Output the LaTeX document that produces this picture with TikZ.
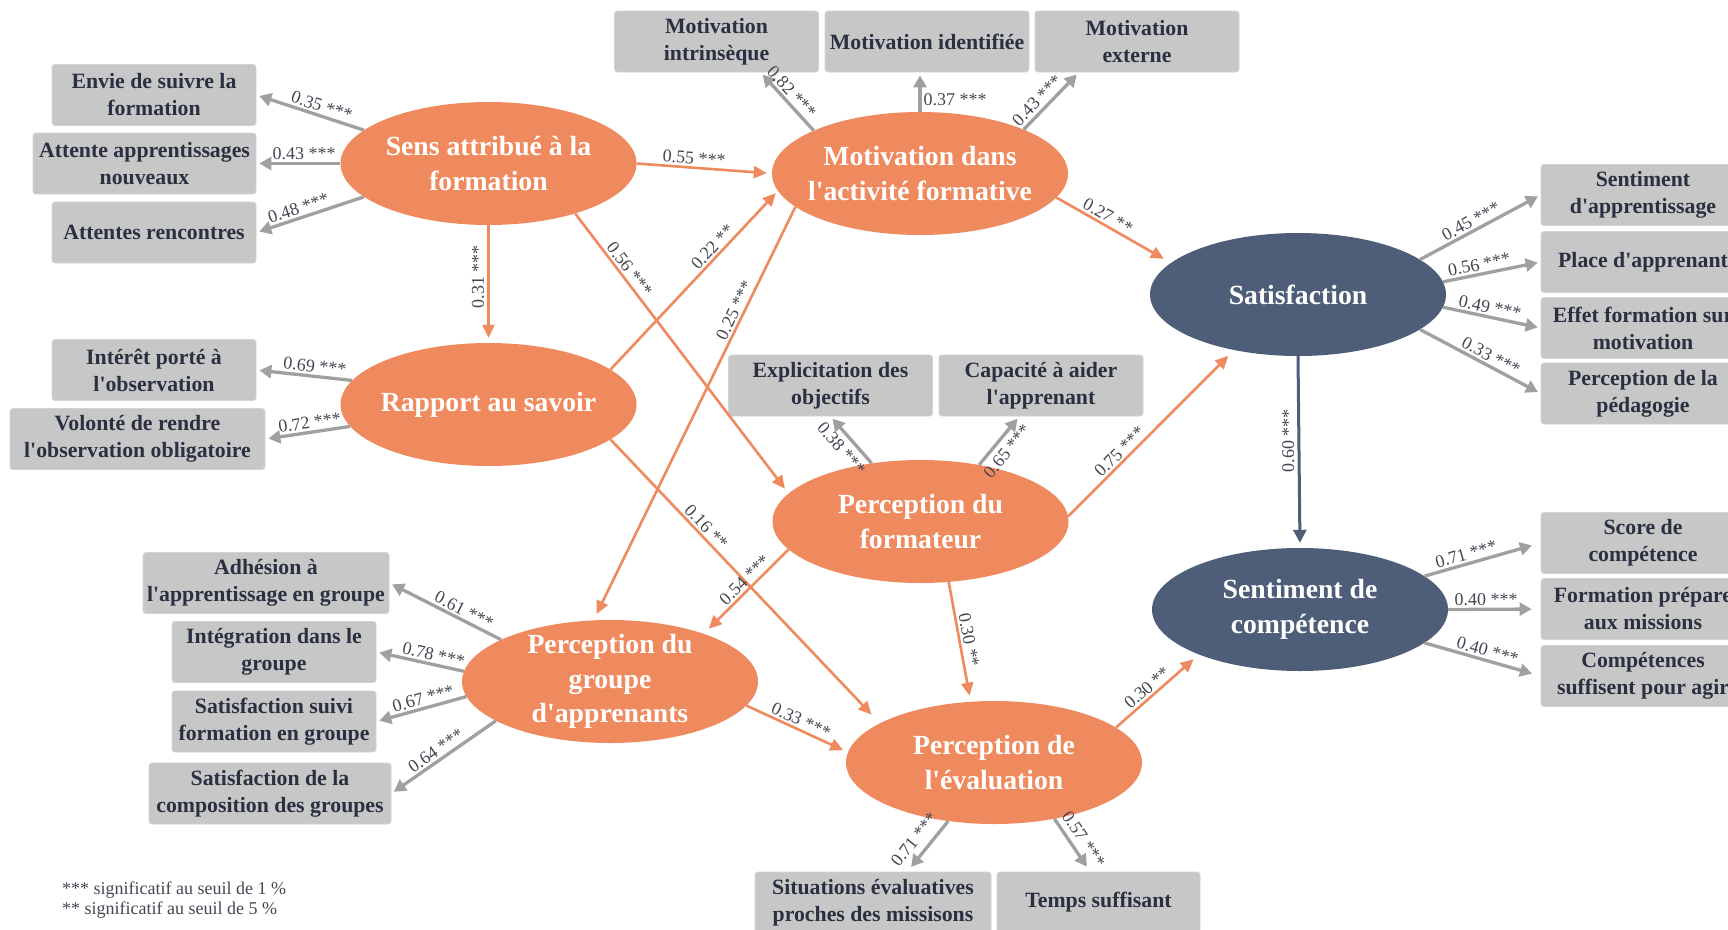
\documentclass[tikz,border=0pt]{standalone}
\usepackage{fontspec}
\setmainfont{Liberation Serif}[Ligatures=TeXOff]
\usetikzlibrary{arrows.meta,shapes.geometric,calc}
\definecolor{orng}{RGB}{239,138,94}
\definecolor{navy}{RGB}{78,93,120}
\definecolor{boxgray}{RGB}{198,199,199}
\definecolor{boxedge}{RGB}{210,211,211}
\definecolor{boxtext}{RGB}{45,47,64}
\definecolor{arrgray}{RGB}{160,160,160}
\definecolor{lbl}{RGB}{70,70,82}
\tikzset{
 lat/.style={ellipse, minimum width=296pt, minimum height=123pt, inner sep=0pt},
 olat/.style={lat, fill=orng},
 nlat/.style={lat, fill=navy},
 etxt/.style={text=white, font=\bfseries\fontsize{27.7}{34.5}\selectfont, align=center},
 bx/.style={rectangle, rounded corners=3pt, fill=boxgray, draw=boxedge, line width=0.8pt, minimum width=204pt, minimum height=61pt, inner sep=2pt, align=center, text=boxtext, font=\bfseries\fontsize{21.8}{27}\selectfont},
 lb/.style={font=\fontsize{18}{20}\selectfont, text=lbl, sloped, inner sep=2pt},
 lbn/.style={font=\fontsize{18}{20}\selectfont, text=lbl, inner sep=2pt},
 lbv/.style={font=\fontsize{18}{20}\selectfont, text=lbl, rotate=90, anchor=south, inner sep=3pt},
 garr/.style={draw=arrgray, line width=3.3pt, -{Triangle[length=12pt,width=13pt]}, shorten >=3pt},
 oarr/.style={draw=orng, line width=2.6pt, -{Triangle[length=13pt,width=12pt]}, shorten >=6pt},
 narr/.style={draw=navy, line width=3pt, -{Triangle[length=13pt,width=13pt]}, shorten >=5pt},
 lgd/.style={anchor=west, font=\fontsize{18}{20}\selectfont, text=lbl, inner sep=0pt}
}
\begin{document}
\begin{tikzpicture}[x=1pt,y=-1pt]
\useasboundingbox (0,0) rectangle (1728,929);
\clip (0,0) rectangle (1728,929);
\fill[white] (0,0) rectangle (1728,929);

% latent variables
\node[olat,label={[etxt]center:{Sens attribué à la\\formation}}] (sens) at (488.5,163.5) {};
\node[olat,label={[etxt]center:{Rapport au savoir}}] (rapport) at (488.5,404.5) {};
\node[olat,label={[etxt]center:{Motivation dans\\l'activité formative}}] (motiv) at (920,173.5) {};
\node[olat,label={[etxt]center:{Perception du\\formateur}}] (form) at (920.5,521.5) {};
\node[olat,label={[etxt]center:{Perception du\\groupe\\d'apprenants}}] (grp) at (610,681.5) {};
\node[olat,label={[etxt]center:{Perception de\\l'évaluation}}] (eval) at (994,762.5) {};
\node[nlat,label={[etxt]center:{Satisfaction}}] (sat) at (1298,294.5) {};
\node[nlat,label={[etxt]center:{Sentiment de\\compétence}}] (sent) at (1300,609.5) {};

% indicators
\node[bx] (envie) at (154,95) {Envie de suivre la\\formation};
\node[bx, minimum width=223pt] (attente) at (144.5,163.5) {Attente apprentissages\\nouveaux};
\node[bx] (rencontres) at (154,232.5) {Attentes rencontres};
\node[bx] (interet) at (154,370) {Intérêt porté à\\l'observation};
\node[bx, minimum width=255pt] (volonte) at (137.5,439) {Volonté de rendre\\l'observation obligatoire};
\node[bx] (intr) at (716.5,41.5) {Motivation\\intrinsèque};
\node[bx] (ident) at (927,41.5) {Motivation identifiée};
\node[bx] (ext) at (1137,41.5) {Motivation\\externe};
\node[bx] (explic) at (830.5,385.5) {Explicitation des\\objectifs};
\node[bx] (capac) at (1041,385.5) {Capacité à aider\\l'apprenant};
\node[bx] (sentapp) at (1643,195) {Sentiment\\d'apprentissage};
\node[bx] (place) at (1643,262) {Place d'apprenant};
\node[bx] (effet) at (1643,328) {Effet formation sur\\motivation};
\node[bx] (pedag) at (1643,393.5) {Perception de la\\pédagogie};
\node[bx] (score) at (1643,543) {Score de\\compétence};
\node[bx] (prepare) at (1643,609) {Formation prépare\\aux missions};
\node[bx] (suffisent) at (1643,676) {Compétences\\suffisent pour agir};
\node[bx, minimum width=246pt] (adhesion) at (266,583) {Adhésion à\\l'apprentissage en groupe};
\node[bx] (integration) at (274,652) {Intégration dans le\\groupe};
\node[bx] (suivi) at (274,721.5) {Satisfaction suivi\\formation en groupe};
\node[bx, minimum width=242pt] (compo) at (270,793.5) {Satisfaction de la\\composition des groupes};
\node[bx, minimum width=236pt] (situations) at (873,902.5) {Situations évaluatives\\proches des missisons};
\node[bx, minimum width=203pt] (temps) at (1098.5,902.5) {Temps suffisant};

% measurement arrows
\draw[garr] (sens.165) -- (envie.east) node[lb,pos=0.42,above]{0.35 ***};
\draw[garr] (sens.180) -- (attente.east) node[lb,pos=0.43,above]{0.43 ***};
\draw[garr] (sens.195) -- (rencontres.east) node[lb,pos=0.58,above]{0.48 ***};
\draw[garr] (rapport.170) -- (interet.east) node[lb,pos=0.4,above]{0.69 ***};
\draw[garr] (rapport.189) -- (volonte.east) node[lb,pos=0.46,above]{0.72 ***};
\draw[garr] (motiv.158) -- (intr.-35) node[lb,pos=0.55,above]{0.82 ***};
\draw[garr] (motiv.north) -- (motiv.north |- ident.south) node[lbn,pos=0.3,right]{0.37 ***};
\draw[garr] (motiv.23) -- (ext.208) node[lb,pos=0.38,above,inner sep=3pt]{0.43 ***};
\draw[garr] (form.130) -- (explic.south) node[lb,pos=0.5,below,inner sep=5pt]{0.38 ***};
\draw[garr] (form.44) -- (capac.235) node[lb,pos=0.45,below,inner sep=5pt]{0.65 ***};
\draw[garr] (sat.16) -- (sentapp.west) node[lb,pos=0.46,above]{0.45 ***};
\draw[garr] (sat.5) -- (place.west) node[lb,pos=0.39,above]{0.56 ***};
\draw[garr] (sat.355) -- (effet.west) node[lb,pos=0.46,above]{0.49 ***};
\draw[garr] (sat.344) -- (pedag.west) node[lb,pos=0.55,above]{0.33 ***};
\draw[garr,shorten >=9pt] (sent.15) -- (score.west) node[lb,pos=0.38,above]{0.71 ***};
\draw[garr,shorten >=9pt] (sent.east) -- (prepare.west) node[lb,pos=0.41,above]{0.40 ***};
\draw[garr,shorten >=9pt] (sent.345) -- (suffisent.west) node[lb,pos=0.52,above]{0.40 ***};
\draw[garr] (grp.159) -- (adhesion.east) node[lb,pos=0.37,above]{0.61 ***};
\draw[garr] (grp.176) -- (integration.east) node[lb,pos=0.37,above]{0.78 ***};
\draw[garr] (grp.186) -- (suivi.east) node[lb,pos=0.45,above]{0.67 ***};
\draw[garr] (grp.199) -- (compo.east) node[lb,pos=0.52,above]{0.64 ***};
\draw[garr,shorten >=6pt] (eval.232) -- (situations.42) node[lb,pos=0.55,above,inner sep=7pt]{0.71 ***};
\draw[garr,shorten >=6pt] (eval.317) -- (temps.105) node[lb,pos=0.52,above,inner sep=5pt]{0.57 ***};

% structural arrows
\draw[oarr,shorten >=5pt] (sens.east) -- (motiv.west) node[lb,pos=0.42,above]{0.55 ***};
\draw[oarr,shorten >=5pt] (sens.south) -- (rapport.north) node[lbv,pos=0.44]{0.31 ***};
\draw[oarr] (sens.330) -- (form.168) node[lb,pos=0.22,above]{0.56 ***};
\draw[oarr,shorten >=3pt] (rapport.16) -- (motiv.187) node[lb,pos=0.65,above]{0.22 **};
\draw[oarr,shorten >=7pt] (motiv.195) -- (grp.105) node[lb,pos=0.26,above]{0.25 ***};
\draw[oarr,shorten >=12pt] (rapport.344) -- (eval.161) node[lb,pos=0.33,above]{0.16 **};
\draw[oarr,shorten >=8pt] (motiv.350) -- (sat.166) node[lb,pos=0.41,above]{0.27 **};
\draw[oarr,shorten >=8pt] (form.2) -- (sat.221) node[lb,pos=0.35,above]{0.75 ***};
\draw[oarr,shorten >=7pt] (form.192) -- (grp.27) node[lb,pos=0.44,above]{0.54 ***};
\draw[oarr] (form.295) -- (eval.111) node[lb,pos=0.5,above]{0.30 **};
\draw[oarr,shorten >=5pt] (grp.350) -- (eval.176) node[lb,pos=0.5,above]{0.33 ***};
\draw[oarr,shorten >=7pt] (eval.16) -- (sent.204) node[lb,pos=0.45,above]{0.30 **};
\draw[narr] (sat.south) -- (sent.north) node[lbv,pos=0.44]{0.60 ***};

% legend
\node[lgd] (leg1) at (62,890) {*** significatif au seuil de 1 \%};
\node[lgd] (leg2) at (62,910) {** significatif au seuil de 5 \%};
\end{tikzpicture}
\end{document}
